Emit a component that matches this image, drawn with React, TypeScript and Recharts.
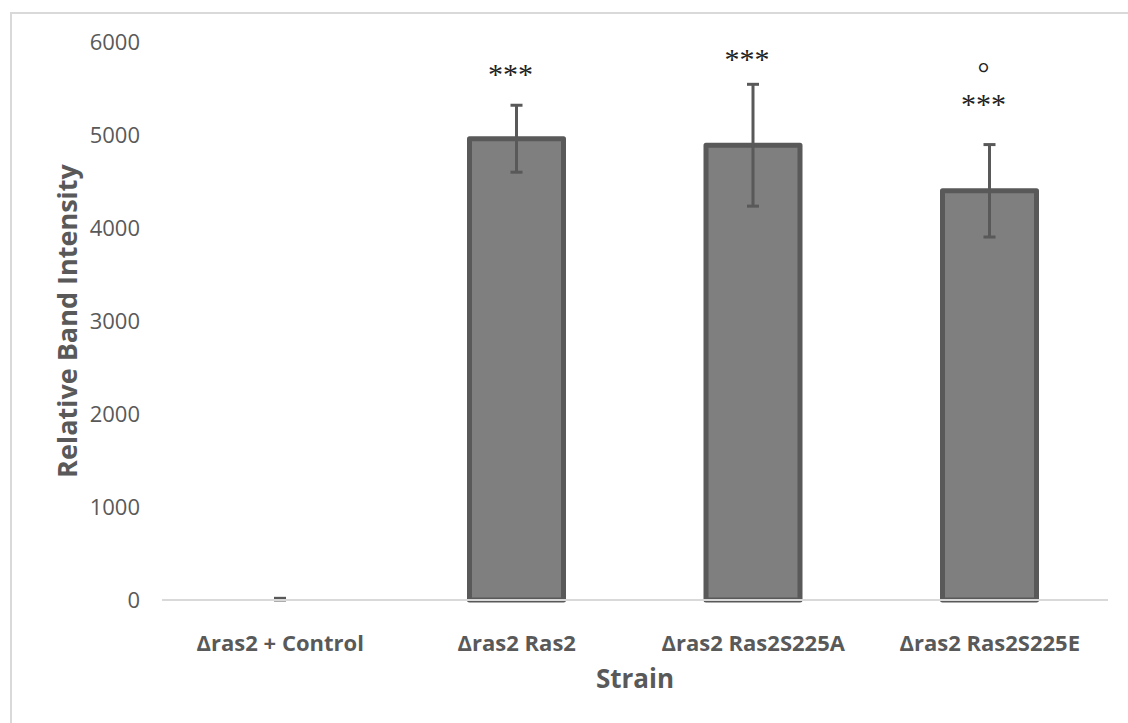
import React from 'react'
import { BarChart, Bar, XAxis, YAxis, ErrorBar, LabelList, Rectangle } from 'recharts'

const strains = ['Δras2 + Control', 'Δras2 Ras2', 'Δras2 Ras2S225A', 'Δras2 Ras2S225E']
const intensity = [9, 4960, 4890, 4400]
const errors = [9, 360, 655, 497]
const marks = [[], ['***'], ['***'], ['°', '***']]
const yTicks = [0, 1000, 2000, 3000, 4000, 5000, 6000]

const rows = strains.map((strain, i) => ({ strain, intensity: intensity[i], err: errors[i] }))

// space between the top of each error bar and the baseline of its significance marks
const markGap = [0, 21, 15, 31]

const grey = '#595959'
const font = '"Open Sans", sans-serif'

// bars under a couple of pixels tall show only their error bar
function BarShape(props: any) {
  if (props.height < 2) return null
  return <Rectangle {...props} />
}

function SigMarks(props: any) {
  const { x, y, width, height, value } = props
  const i = strains.indexOf(value)
  const lines: string[] = marks[i] || []
  if (!lines.length || !intensity[i]) return null
  const pxPerUnit = height / intensity[i]
  const errTop = y - errors[i] * pxPerUnit
  const base = errTop - markGap[i]
  const cx = x + width / 2 - 6
  return (
    <g>
      {lines.map((t, k) => (
        <text
          key={k}
          x={cx}
          y={base - (lines.length - 1 - k) * 31}
          textAnchor="middle"
          fontFamily='"Liberation Serif", serif'
          fontSize={30}
          fill="#222"
        >
          {t}
        </text>
      ))}
    </g>
  )
}

function YTitle(props: any) {
  const vx = props.viewBox?.x ?? 0
  const tx = vx + 77
  const ty = 321
  return (
    <text x={tx} y={ty} transform={`rotate(-90 ${tx} ${ty})`} textAnchor="middle"
      fontFamily={font} fontSize={27} fontWeight={700} fill={grey}>
      Relative Band Intensity
    </text>
  )
}

export default function App() {
  return (
    <div style={{ position: 'absolute', left: 0, top: 0, width: 1128, height: 723, overflow: 'hidden', background: '#fff' }}>
      <div style={{ position: 'absolute', left: 10, top: 12, width: 1200, height: 800, borderLeft: '2px solid #d9d9d9', borderTop: '2px solid #d9d9d9' }} />
      <div style={{ position: 'absolute', left: 0, top: 0 }}>
        <BarChart width={1128} height={723} data={rows} margin={{ top: 42, right: 20, bottom: 0, left: 0 }}>
          <XAxis
            dataKey="strain"
            height={123}
            interval={0}
            axisLine={{ stroke: '#d9d9d9', strokeWidth: 2 }}
            tickLine={false}
            tickMargin={29}
            tick={{ fill: grey, fontSize: 22, fontWeight: 700, fontFamily: font }}
            label={{ value: 'Strain', position: 'insideBottom', offset: 35, fill: grey, fontSize: 26, fontWeight: 700, fontFamily: font }}
          />
          <YAxis
            width={162}
            domain={[0, 6000]}
            ticks={yTicks}
            axisLine={false}
            tickLine={false}
            tickMargin={16}
            tick={{ fill: grey, fontSize: 22, fontFamily: font }}
            label={<YTitle />}
          />
          <Bar dataKey="intensity" fill="#7f7f7f" stroke={grey} strokeWidth={5} strokeLinejoin="round" barSize={94}
            shape={<BarShape />} isAnimationActive={false}>
            <ErrorBar dataKey="err" width={6} strokeWidth={3} stroke={grey} />
            <LabelList dataKey="strain" content={<SigMarks />} />
          </Bar>
        </BarChart>
      </div>
    </div>
  )
}
